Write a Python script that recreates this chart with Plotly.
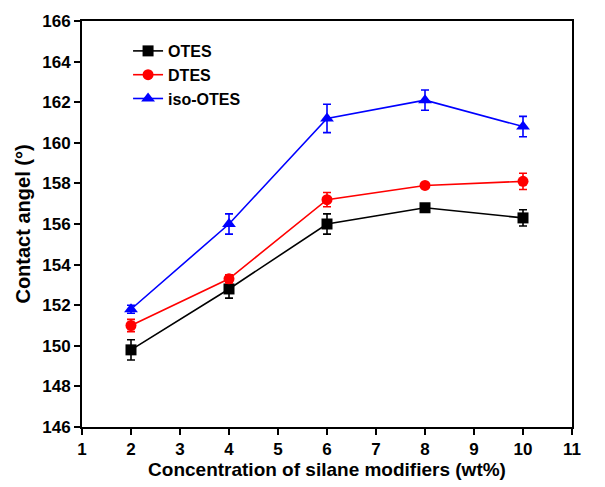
import plotly.graph_objects as go

x = [2, 4, 6, 8, 10]
otes = [149.8, 152.8, 156.0, 156.8, 156.3]
otes_err = [0.5, 0.45, 0.5, 0.15, 0.4]
dtes = [151.0, 153.3, 157.2, 157.9, 158.1]
dtes_err = [0.3, 0.2, 0.35, 0.1, 0.4]
iso = [151.8, 156.0, 161.2, 162.1, 160.8]
iso_err = [0.2, 0.5, 0.7, 0.5, 0.5]

series = [
    ("OTES", otes, otes_err, "#000000", "square"),
    ("DTES", dtes, dtes_err, "#ff0000", "circle"),
    ("iso-OTES", iso, iso_err, "#0000ff", "triangle-up"),
]

fig = go.Figure()
for name, y, e, c, sym in series:
    fig.add_trace(go.Scatter(
        x=x, y=y, name=name, mode="lines+markers",
        line=dict(color=c, width=1.6),
        marker=dict(color=c, symbol=sym, size=11 if sym != "triangle-up" else 12),
        error_y=dict(type="data", array=e, visible=True, color=c, thickness=1.6, width=4),
    ))

font = "Liberation Sans, Arial, sans-serif"
fig.update_layout(
    width=605, height=487,
    margin=dict(l=82, r=33, t=21, b=60),
    plot_bgcolor="white", paper_bgcolor="white",
    font=dict(family=font, color="black"),
    showlegend=True,
    legend=dict(x=0.094, y=0.968, xanchor="left", yanchor="top",
                bgcolor="rgba(0,0,0,0)", font=dict(size=16, family=font, weight="bold"),
                tracegroupgap=0, itemwidth=30),
    xaxis=dict(range=[1, 11], dtick=1, tick0=1, showgrid=False, zeroline=False,
               showline=True, linecolor="black", linewidth=2, mirror=True,
               ticks="outside", ticklen=6, tickwidth=2, tickcolor="black",
               tickfont=dict(size=17, weight="bold"), automargin=False,
               title=dict(text="Concentration of silane modifiers (wt%)",
                          font=dict(size=19, weight="bold"), standoff=2)),
    yaxis=dict(range=[146, 166], dtick=2, tick0=146, showgrid=False, zeroline=False,
               showline=True, linecolor="black", linewidth=2, mirror=True,
               ticks="outside", ticklen=6, tickwidth=2, tickcolor="black",
               tickfont=dict(size=17, weight="bold"), automargin=False,
               title=dict(text="Contact angel (°)",
                          font=dict(size=20, weight="bold"), standoff=6)),
)

fig.write_html("out.html")
